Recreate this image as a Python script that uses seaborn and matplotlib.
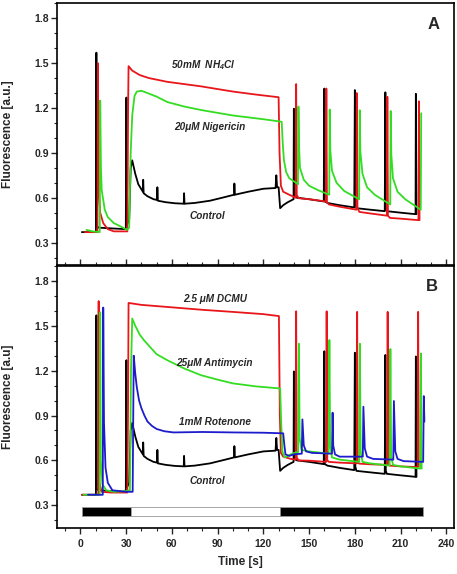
import numpy as np
import pandas as pd
import matplotlib
matplotlib.use("Agg")
import matplotlib.pyplot as plt
import seaborn as sns
from matplotlib.ticker import MultipleLocator

# ---- data (time [s], fluorescence [a.u.]) ----
ctrl_t = [1, 10.2, 10.5, 10.8, 12, 20, 29.8, 30.2, 30.6, 32, 33, 34, 36, 38, 41, 41.2, 41.5,
          44, 48, 50.3, 50.5, 50.8, 56, 62, 67.8, 68, 68.3, 75, 85, 95, 100.8, 101, 101.3,
          110, 120, 128, 128.5, 129, 130, 131, 133, 136, 139.8, 140, 140.3, 142, 150, 159.6,
          160, 160.3, 162, 170, 179.6, 180, 180.3, 181, 190, 199.6, 200, 200.3, 201, 210,
          219.8, 220, 220.4]
ctrl_f = [0.37, 0.37, 1.57, 0.41, 0.40, 0.395, 0.39, 1.27, 0.42, 0.45, 0.80, 0.85, 0.76, 0.69,
          0.64, 0.72, 0.63, 0.61, 0.59, 0.585, 0.67, 0.58, 0.57, 0.563, 0.56, 0.63, 0.56,
          0.565, 0.58, 0.605, 0.62, 0.695, 0.62, 0.64, 0.66, 0.665, 0.75, 0.67, 0.67, 0.53,
          0.55, 0.57, 0.59, 1.195, 0.61, 0.60, 0.59, 0.575, 1.33, 0.575, 0.565, 0.55, 0.535,
          1.32, 0.56, 0.53, 0.52, 0.51, 1.305, 0.53, 0.51, 0.50, 0.49, 1.295, 0.49]

nh4_t = [3, 11.2, 11.5, 11.9, 13, 15, 18, 22, 30.8, 31.3, 31.6, 34, 39, 45, 57, 79, 100, 115,
         130, 130.6, 131.5, 133, 137, 141.2, 141.5, 141.9, 143, 150, 161, 161.3, 161.7, 163,
         170, 181, 181.3, 181.7, 183, 190, 201, 201.3, 201.7, 203, 210, 221.7, 222, 222.4]
nh4_f = [0.37, 0.37, 1.50, 0.70, 0.50, 0.43, 0.39, 0.375, 0.375, 1.20, 1.48, 1.45, 1.42, 1.40,
         1.375, 1.345, 1.31, 1.29, 1.272, 0.90, 0.68, 0.64, 0.62, 0.60, 1.36, 0.62, 0.597,
         0.59, 0.575, 1.33, 0.57, 0.555, 0.54, 0.52, 1.30, 0.53, 0.505, 0.495, 0.48, 1.275,
         0.48, 0.465, 0.46, 0.45, 1.245, 0.45]

nig_t = [4, 8, 12.7, 13, 13.5, 14, 16, 18, 22, 26, 30.6, 32, 33, 34, 35.5, 37, 40, 44, 50, 57,
         68, 80, 100, 120, 132, 132.8, 133.5, 135, 137, 140, 142.7, 143, 143.4, 144, 146.5,
         150, 156, 163.2, 163.5, 163.9, 165, 168, 173, 182.8, 183.2, 183.6, 185, 188, 193,
         203.2, 203.5, 203.9, 205, 208, 213, 223.2, 223.5]
nig_f = [0.385, 0.375, 0.37, 1.25, 0.80, 0.65, 0.52, 0.47, 0.43, 0.41, 0.385, 0.40, 0.90, 1.15,
         1.28, 1.31, 1.315, 1.30, 1.276, 1.24, 1.21, 1.185, 1.15, 1.125, 1.108, 0.95, 0.85,
         0.77, 0.73, 0.71, 0.69, 1.21, 0.95, 0.80, 0.72, 0.68, 0.65, 0.62, 1.19, 0.92, 0.78,
         0.70, 0.645, 0.59, 1.185, 0.91, 0.76, 0.67, 0.62, 0.555, 1.18, 0.89, 0.73, 0.64,
         0.59, 0.52, 1.165]

dcmu_t = [1, 11.7, 12, 12.4, 14, 20, 30.8, 31.3, 31.6, 40, 57, 80, 100, 120, 130.2, 130.8,
          131.5, 133, 138, 141.2, 141.5, 141.9, 143, 150, 161.2, 161.5, 161.9, 163, 170,
          181.2, 181.5, 181.9, 183, 190, 201.2, 201.5, 201.9, 203, 210, 221.2, 221.5, 221.9]
dcmu_f = [0.37, 0.37, 1.665, 0.45, 0.39, 0.385, 0.385, 1.00, 1.653, 1.64, 1.626, 1.607, 1.593,
          1.578, 1.565, 0.90, 0.65, 0.625, 0.61, 0.605, 1.597, 0.62, 0.60, 0.598, 0.59, 1.597,
          0.60, 0.59, 0.585, 0.58, 1.593, 0.585, 0.578, 0.574, 0.57, 1.593, 0.57, 0.565, 0.56,
          0.555, 1.593, 0.56]

anti_t = [2, 12.7, 13, 13.4, 14.5, 17, 22, 30, 32.5, 33.2, 34, 36, 39, 42, 46, 50, 57, 68, 79,
          90, 100, 115, 131, 131.7, 132.5, 134, 136, 140, 142.8, 143.3, 143.8, 145, 150, 162.8,
          163.3, 163.8, 165, 170, 182.8, 183.3, 183.8, 185, 190, 202.8, 203.3, 203.8, 205, 210,
          222.8, 223.3, 223.8]
anti_f = [0.37, 0.37, 1.59, 0.60, 0.44, 0.40, 0.39, 0.395, 0.40, 1.20, 1.549, 1.50, 1.44, 1.40,
          1.355, 1.31, 1.27, 1.215, 1.17, 1.14, 1.115, 1.095, 1.081, 0.85, 0.66, 0.62, 0.63,
          0.65, 0.655, 1.38, 0.75, 0.67, 0.66, 0.645, 1.405, 0.70, 0.62, 0.605, 0.59,
          1.38, 0.66, 0.59, 0.58, 0.565, 1.345, 0.63, 0.57, 0.56, 0.545, 1.315, 0.545]

rot_t = [5, 14.7, 15, 15.5, 16.5, 18, 21, 30, 34.3, 34.6, 35, 36, 37, 38.5, 40, 42, 44, 47, 50,
         55, 61, 80, 100, 120, 133, 133.8, 134.5, 137, 140, 145.2, 145.6, 146.5, 148, 152, 165,
         165.4, 165.8, 167, 170, 185.2, 185.6, 186.5, 188, 192, 205.2, 205.6, 206.5, 208, 212,
         224.8, 225.2, 225.6]
rot_f = [0.37, 0.37, 1.622, 0.85, 0.55, 0.45, 0.40, 0.39, 0.39, 0.80, 1.30, 1.18, 1.09, 1.00,
         0.95, 0.90, 0.86, 0.83, 0.81, 0.795, 0.787, 0.79, 0.787, 0.785, 0.781, 0.70, 0.64,
         0.63, 0.64, 0.645, 0.874, 0.70, 0.66, 0.65, 0.645, 0.919, 0.70, 0.64, 0.625, 0.625,
         0.959, 0.68, 0.625, 0.61, 0.605, 0.997, 0.66, 0.61, 0.595, 0.59, 1.03, 0.86]

# light regime bar: dark / light / dark
bar_edges = [1, 33.3, 130.7, 225]
bar_colors = ["black", "white", "black"]

RED = "#e8161b"
GREEN = "#33dd22"
BLUE = "#1c1ccc"

sns.set_style("ticks")
plt.rcParams["font.family"] = ["Liberation Sans", "DejaVu Sans"]
plt.rcParams["font.weight"] = "bold"

fig = plt.figure(figsize=(4.57, 5.74), dpi=100)
axA = fig.add_axes([0.1258, 0.5383, 0.8676, 0.4559])
axB = fig.add_axes([0.1258, 0.0807, 0.8676, 0.4559])


def trace(ax, t, f, color):
    sns.lineplot(x=t, y=f, ax=ax, color=color, lw=1.3, sort=False, estimator=None)


trace(axA, ctrl_t, ctrl_f, "black")
trace(axA, nh4_t, nh4_f, RED)
trace(axA, nig_t, nig_f, GREEN)

trace(axB, ctrl_t, ctrl_f, "black")
trace(axB, dcmu_t, dcmu_f, RED)
trace(axB, anti_t, anti_f, GREEN)
trace(axB, rot_t, rot_f, BLUE)

for i in range(3):
    axB.add_patch(plt.Rectangle((bar_edges[i], 0.225), bar_edges[i + 1] - bar_edges[i], 0.062,
                                facecolor=bar_colors[i], edgecolor="#999999", lw=0.6))

ann = dict(fontsize=7.2, fontweight="bold", fontstyle="italic", ha="center", va="center")
axA.text(81, 1.484, r"50mM  NH$_\mathregular{4}$Cl", **ann)
axA.text(85, 1.076, "20\u03bcM Nigericin", **ann)
axA.text(83, 0.478, "Control", **ann)
axA.text(231.5, 1.76, "A", fontsize=12, fontweight="bold", ha="center", va="center")

axB.text(88.5, 1.678, "2.5 \u03bcM DCMU", **ann)
axB.text(88, 1.248, "25\u03bcM Antimycin", **ann)
axB.text(88.5, 0.859, "1mM Rotenone", **ann)
axB.text(83, 0.465, "Control", **ann)
axB.text(230.5, 1.76, "B", fontsize=12, fontweight="bold", ha="center", va="center")

for ax in (axA, axB):
    ax.set_xlim(-15, 245)
    ax.set_ylim(0.15, 1.9)
    ax.xaxis.set_major_locator(MultipleLocator(30))
    ax.xaxis.set_minor_locator(MultipleLocator(10))
    ax.yaxis.set_major_locator(MultipleLocator(0.3))
    ax.yaxis.set_minor_locator(MultipleLocator(0.1))
    ax.yaxis.set_major_formatter(matplotlib.ticker.FormatStrFormatter("%.1f"))
    for s in ax.spines.values():
        s.set_linewidth(1.2)
        s.set_color("black")
    ax.tick_params(axis="y", which="major", length=4, width=1, labelsize=7.5, pad=2)
    ax.tick_params(axis="y", which="minor", length=2, width=0.8)
    ax.yaxis.set_label_coords(-0.11, 0.5)

axA.tick_params(axis="x", which="major", direction="in", length=4, width=1, labelbottom=False)
axA.tick_params(axis="x", which="minor", direction="in", length=2, width=0.8)
axB.tick_params(axis="x", which="major", length=4, width=1, labelsize=7.5, pad=4)
axB.tick_params(axis="x", which="minor", length=2, width=0.8)

axA.set_ylabel("Fluorescence [a.u.]", fontsize=8.5, fontweight="bold")
axB.set_ylabel("Fluorescence [a.u]", fontsize=8.5, fontweight="bold")
axA.set_xlabel("")
axB.set_xlabel("Time [s]", fontsize=8.5, fontweight="bold")
axB.xaxis.set_label_coords(0.46, -0.11)

fig.savefig("out.png", dpi=100)
